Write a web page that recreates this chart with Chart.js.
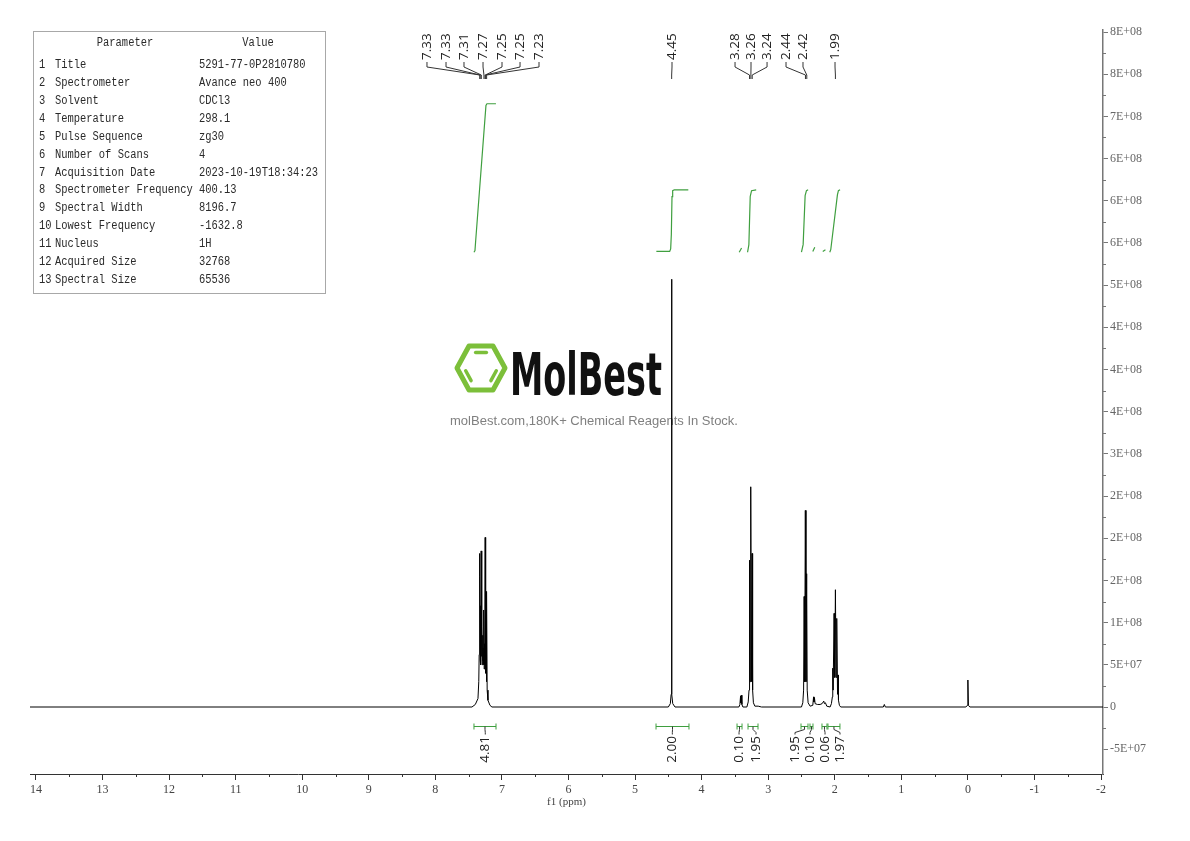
<!DOCTYPE html>
<html>
<head>
<meta charset="utf-8">
<script src="https://cdn.jsdelivr.net/npm/chart.js@4.4.0/dist/chart.umd.min.js"></script>
<style>
body { margin: 0; background: #fff; }
#wrap { position: relative; width: 1190px; height: 841px; }
#c { position: absolute; left: 0; top: 0; }
#params { position: absolute; left: 33px; top: 31px; width: 291px; height: 261px; border: 1px solid #a8a8a8;
  font-family: "Liberation Mono", monospace; font-size: 12.5px; color: #2a2a2a; }
#params span { position: absolute; white-space: nowrap; line-height: 14px; transform-origin: 0 50%; transform: scaleX(0.835); }
#params span.mid { transform-origin: 50% 50%; transform: translateX(-50%) scaleX(0.835); }
</style>
</head>
<body>
<div id="wrap">
  <canvas id="c" width="1190" height="841"></canvas>
  <div id="params"></div>
</div>
<script>
// ---- data ----
var paramNames = ["Title", "Spectrometer", "Solvent", "Temperature", "Pulse Sequence", "Number of Scans",
  "Acquisition Date", "Spectrometer Frequency", "Spectral Width", "Lowest Frequency", "Nucleus",
  "Acquired Size", "Spectral Size"];
var paramValues = ["5291-77-0P2810780", "Avance neo 400", "CDCl3", "298.1", "zg30", "4",
  "2023-10-19T18:34:23", "400.13", "8196.7", "-1632.8", "1H", "32768", "65536"];

var xTickValues = [14, 13, 12, 11, 10, 9, 8, 7, 6, 5, 4, 3, 2, 1, 0, -1, -2];
var yTickValues = [-5e7, 0, 5e7, 1e8, 1.5e8, 2e8, 2.5e8, 3e8, 3.5e8, 4e8, 4.5e8, 5e8, 5.5e8, 6e8, 6.5e8, 7e8, 7.5e8, 8e8];
var yTickLabels = ["-5E+07", "0", "5E+07", "1E+08", "2E+08", "2E+08", "2E+08", "3E+08", "4E+08", "4E+08",
  "4E+08", "5E+08", "6E+08", "6E+08", "6E+08", "7E+08", "8E+08", "8E+08"];

// spectrum (ppm, intensity)
var spectrumPpm = [14.09,
  7.45, 7.40, 7.36, 7.348, 7.342, 7.338, 7.334, 7.331, 7.326, 7.322, 7.317, 7.312, 7.306, 7.300, 7.295, 7.290, 7.285, 7.282, 7.277, 7.272, 7.267, 7.262, 7.257, 7.252, 7.248, 7.245, 7.241, 7.238, 7.233, 7.229, 7.222, 7.21, 7.18, 7.15,
  4.50, 4.47, 4.458, 4.452, 4.446, 4.434, 4.40,
  3.44, 3.425, 3.415, 3.410, 3.405, 3.395, 3.38,
  3.32, 3.30, 3.288, 3.280, 3.272, 3.262, 3.252, 3.242, 3.234, 3.222, 3.20, 3.15, 3.10,
  2.50, 2.48, 2.468, 2.460, 2.452, 2.442, 2.432, 2.422, 2.414, 2.40, 2.37,
  2.33, 2.318, 2.312, 2.305, 2.295, 2.26, 2.22, 2.19, 2.165, 2.155, 2.14, 2.12,
  2.07, 2.05, 2.036, 2.030, 2.024, 2.010, 2.000, 1.990, 1.980, 1.970, 1.958, 1.950, 1.944, 1.93, 1.91,
  1.27, 1.255, 1.24,
  0.03, 0.008, 0.0, -0.008, -0.03,
  -2.03];
var spectrumInt = [0,
  0, 3e6, 1e7, 3e7, 6.2e7, 1.82e8, 6.5e7, 1.55e8, 5.5e7, 1.2e8, 5e7, 1.85e8, 6e7, 9.5e7, 5e7, 8.5e7, 5.5e7, 7e7, 5e7, 1.15e8, 4.5e7, 7.5e7, 5e7, 2.01e8, 8e7, 1.05e8, 4e7, 9e7, 3e7, 1.37e8, 2e7, 8e6, 2e6, 0,
  0, 4e6, 1.5e7, 5.07e8, 1.5e7, 4e6, 0,
  0, 3e6, 1.3e7, 5e6, 1.4e7, 3e6, 0,
  0, 6e6, 2e7, 1.74e8, 3e7, 2.61e8, 3e7, 1.82e8, 2e7, 5e6, 1e6, 1e6, 0,
  0, 5e6, 2e7, 1.31e8, 3e7, 2.33e8, 3e7, 1.58e8, 2e7, 5e6, 1e6,
  2e6, 1.2e7, 6e6, 1.1e7, 4e6, 3e6, 3e6, 4e6, 7e6, 4e6, 5e6, 1e6,
  0, 4e6, 1.2e7, 4.6e7, 2e7, 1.11e8, 3.5e7, 1.39e8, 3.5e7, 1.05e8, 1.5e7, 3.8e7, 8e6, 2e6, 0,
  0, 3e6, 0,
  0, 2e6, 3.2e7, 2e6, 0,
  0];

// picked peaks
var peakPpm = [7.33, 7.33, 7.31, 7.27, 7.25, 7.25, 7.23, 4.45, 3.28, 3.26, 3.24, 2.44, 2.42, 1.99];

// integrals
var integralValues = [4.81, 2.00, 0.10, 1.95, 1.95, 0.10, 0.06, 1.97];
var integralFrom = [7.42, 4.685, 3.468, 3.303, 2.507, 2.372, 2.192, 2.102];
var integralTo = [7.089, 4.19, 3.393, 3.153, 2.402, 2.327, 2.117, 1.922];
var integralCurves = [
  [[7.42, 5.39e8], [7.405, 5.41e8], [7.395, 5.52e8], [7.24, 7.13e8], [7.225, 7.15e8], [7.09, 7.15e8]],
  [[4.68, 5.40e8], [4.48, 5.40e8], [4.465, 5.43e8], [4.455, 5.6e8], [4.445, 6.05e8], [4.435, 6.12e8], [4.41, 6.13e8], [4.20, 6.13e8]],
  [[3.435, 5.39e8], [3.40, 5.44e8]],
  [[3.31, 5.39e8], [3.29, 5.48e8], [3.27, 6.05e8], [3.25, 6.12e8], [3.18, 6.13e8]],
  [[2.50, 5.39e8], [2.475, 5.48e8], [2.445, 6.06e8], [2.425, 6.12e8], [2.40, 6.13e8]],
  [[2.33, 5.40e8], [2.30, 5.45e8]],
  [[2.18, 5.40e8], [2.14, 5.42e8]],
  [[2.075, 5.39e8], [2.06, 5.42e8], [1.96, 6.07e8], [1.945, 6.12e8], [1.92, 6.13e8]]
];

// ---- layout (where labels sit, in ppm so they go through the x scale) ----
var peakLabelAt = [8.126, 7.840, 7.570, 7.284, 6.999, 6.728, 6.443, 4.445, 3.498, 3.258, 3.017, 2.732, 2.477, 1.996];
var integralLabelAt = [7.25, 4.44, 3.438, 3.183, 2.597, 2.372, 2.146, 1.921];
var GREEN = "#3f9f3f";

// parameter table
var tbl = document.getElementById("params");
function addSpan(txt, left, y, center) {
  var s = document.createElement("span");
  s.textContent = txt;
  s.style.left = left + "px";
  s.style.top = y + "px";
  if (center) s.className = "mid";
  tbl.appendChild(s);
}
addSpan("Parameter", 91, 4, true);
addSpan("Value", 224, 4, true);
for (var i = 0; i < paramNames.length; i++) {
  var rowTop = 65 + i * 17.92 - 32 - 7;
  addSpan(String(i + 1), 5, rowTop);
  addSpan(paramNames[i], 21, rowTop);
  addSpan(paramValues[i], 165, rowTop);
}

function drawLogo(ctx) {
  var cx = 481, cy = 368, rx = 24, ry = 22;
  var pts = [[cx - rx, cy], [cx - rx / 2, cy - ry], [cx + rx / 2, cy - ry], [cx + rx, cy], [cx + rx / 2, cy + ry], [cx - rx / 2, cy + ry]];
  ctx.save();
  ctx.strokeStyle = "#7cbf3a";
  ctx.lineJoin = "round";
  ctx.lineCap = "round";
  ctx.lineWidth = 5;
  ctx.beginPath();
  pts.forEach(function (p, k) { if (k == 0) ctx.moveTo(p[0], p[1]); else ctx.lineTo(p[0], p[1]); });
  ctx.closePath();
  ctx.stroke();
  // inner double bonds: top, lower-right, lower-left edges
  ctx.lineWidth = 3.5;
  [[1, 2], [3, 4], [5, 0]].forEach(function (e) {
    var a = pts[e[0]], b = pts[e[1]];
    var k = 0.3, s = 0.18;
    var ax = a[0] + (cx - a[0]) * k, ay = a[1] + (cy - a[1]) * k;
    var bx = b[0] + (cx - b[0]) * k, by = b[1] + (cy - b[1]) * k;
    ctx.beginPath();
    ctx.moveTo(ax + (bx - ax) * s, ay + (by - ay) * s);
    ctx.lineTo(bx - (bx - ax) * s, by - (by - ay) * s);
    ctx.stroke();
  });
  // word mark
  ctx.fillStyle = "#111";
  ctx.font = 'bold 58px "DejaVu Sans"';
  ctx.textBaseline = "alphabetic";
  var w = ctx.measureText("MolBest").width;
  ctx.translate(510, 395);
  ctx.scale(152 / w, 1);
  ctx.fillText("MolBest", 0, 0);
  ctx.restore();
  ctx.save();
  ctx.fillStyle = "#808080";
  ctx.font = '13px "Liberation Sans"';
  ctx.textAlign = "center";
  ctx.textBaseline = "middle";
  ctx.fillText("molBest.com,180K+ Chemical Reagents In Stock.", 594, 421);
  ctx.restore();
}

var overlay = {
  id: "overlay",
  beforeDatasetsDraw: function (chart) {
    drawLogo(chart.ctx);
  },
  afterDatasetsDraw: function (chart) {
    var ctx = chart.ctx, xs = chart.scales.x, ys = chart.scales.y, area = chart.chartArea;
    ctx.save();
    // minor ticks
    ctx.strokeStyle = "#333";
    ctx.lineWidth = 1;
    ctx.beginPath();
    for (var i = 0; i < xTickValues.length - 1; i++) {
      var mx = Math.round(xs.getPixelForValue((xTickValues[i] + xTickValues[i + 1]) / 2)) + 0.5;
      ctx.moveTo(mx, area.bottom);
      ctx.lineTo(mx, area.bottom + 3);
    }
    ctx.stroke();
    ctx.strokeStyle = "#777";
    ctx.beginPath();
    for (var j = 0; j < yTickValues.length - 1; j++) {
      var my = Math.round(ys.getPixelForValue((yTickValues[j] + yTickValues[j + 1]) / 2)) + 0.5;
      ctx.moveTo(area.right, my);
      ctx.lineTo(area.right + 3, my);
    }
    ctx.stroke();

    // peak labels
    ctx.fillStyle = "#222";
    ctx.strokeStyle = "#333";
    ctx.font = '13.5px "Open Sans"';
    for (var p = 0; p < peakPpm.length; p++) {
      var lx = xs.getPixelForValue(peakLabelAt[p]);
      var px = xs.getPixelForValue(peakPpm[p]);
      ctx.save();
      ctx.translate(lx, 60);
      ctx.rotate(-Math.PI / 2);
      ctx.textAlign = "left";
      ctx.textBaseline = "middle";
      ctx.fillText(peakPpm[p].toFixed(2), 0, 0);
      ctx.restore();
      ctx.beginPath();
      ctx.moveTo(lx, 62);
      ctx.lineTo(lx, 67);
      ctx.lineTo(px, 75);
      ctx.lineTo(px, 79);
      ctx.stroke();
    }

    // integral brackets and values
    for (var n = 0; n < integralValues.length; n++) {
      var x1 = xs.getPixelForValue(integralFrom[n]);
      var x2 = xs.getPixelForValue(integralTo[n]);
      var xc = (x1 + x2) / 2;
      var tx = xs.getPixelForValue(integralLabelAt[n]);
      var by = 726.5;
      ctx.strokeStyle = GREEN;
      ctx.beginPath();
      ctx.moveTo(x1, by); ctx.lineTo(x2, by);
      ctx.moveTo(x1, by - 3); ctx.lineTo(x1, by + 3);
      ctx.moveTo(x2, by - 3); ctx.lineTo(x2, by + 3);
      ctx.stroke();
      ctx.strokeStyle = "#333";
      ctx.beginPath();
      ctx.moveTo(xc, by);
      ctx.lineTo(xc, by + 3);
      ctx.lineTo(tx, by + 6);
      ctx.lineTo(tx, by + 8);
      ctx.stroke();
      ctx.save();
      ctx.translate(tx, 736);
      ctx.rotate(-Math.PI / 2);
      ctx.textAlign = "right";
      ctx.textBaseline = "middle";
      ctx.fillStyle = "#222";
      ctx.fillText(integralValues[n].toFixed(2), 0, 0);
      ctx.restore();
    }

    // axis title
    ctx.fillStyle = "#444";
    ctx.font = '11px "Liberation Serif"';
    ctx.textAlign = "center";
    ctx.textBaseline = "middle";
    ctx.fillText("f1 (ppm)", (area.left + area.right) / 2, 802);
    ctx.restore();
  }
};

var datasets = [{
  data: spectrumPpm.map(function (p, i) { return { x: p, y: spectrumInt[i] }; }),
  borderColor: "#000",
  borderWidth: 1,
  pointRadius: 0,
  tension: 0
}];
integralCurves.forEach(function (curve) {
  datasets.push({
    data: curve.map(function (pt) { return { x: pt[0], y: pt[1] }; }),
    borderColor: GREEN,
    borderWidth: 1.2,
    pointRadius: 0,
    tension: 0
  });
});

new Chart(document.getElementById("c").getContext("2d"), {
  type: "line",
  data: { datasets: datasets },
  options: {
    responsive: false,
    animation: false,
    devicePixelRatio: 1,
    events: [],
    layout: { padding: { left: 30, top: 30, right: 0, bottom: 0 } },
    plugins: { legend: { display: false }, tooltip: { enabled: false } },
    scales: {
      x: {
        type: "linear",
        reverse: true,
        min: -2.03,
        max: 14.09,
        afterFit: function (s) { s.height = 67; },
        afterBuildTicks: function (s) { s.ticks = xTickValues.map(function (v) { return { value: v }; }); },
        grid: { drawOnChartArea: false, drawTicks: true, tickLength: 6, tickColor: "#333" },
        border: { display: true, color: "#333", width: 1 },
        ticks: {
          color: "#444",
          font: { family: "Liberation Serif", size: 12 },
          padding: 3,
          maxRotation: 0,
          autoSkip: false,
          callback: function (v) { return String(v); }
        }
      },
      y: {
        type: "linear",
        position: "right",
        min: -7.94e7,
        max: 8.024e8,
        afterFit: function (s) { s.width = 87; },
        afterBuildTicks: function (s) { s.ticks = yTickValues.map(function (v) { return { value: v }; }); },
        grid: { drawOnChartArea: false, drawTicks: true, tickLength: 5, tickColor: "#777" },
        border: { display: true, color: "#777", width: 1.5 },
        ticks: {
          color: "#666",
          font: { family: "Liberation Serif", size: 12 },
          padding: 2,
          autoSkip: false,
          callback: function (v, i) { return yTickLabels[i]; }
        }
      }
    }
  },
  plugins: [overlay]
});
</script>
</body>
</html>
